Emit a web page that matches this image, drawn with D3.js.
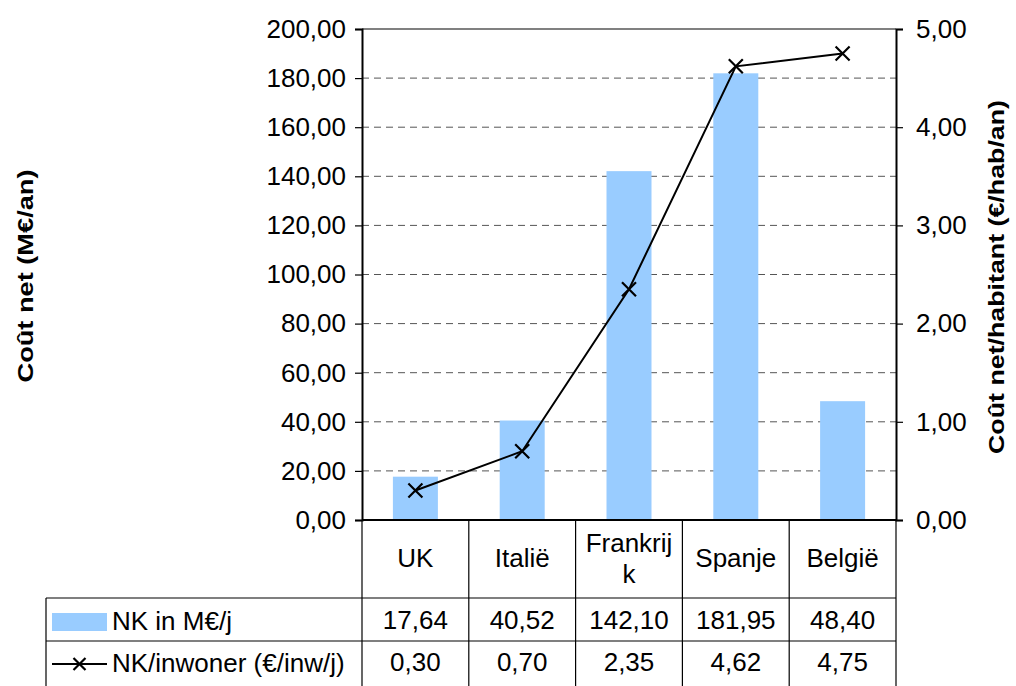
<!DOCTYPE html>
<html>
<head>
<meta charset="utf-8">
<script src="https://cdn.jsdelivr.net/npm/d3@7"></script>
<style>
  html, body { margin: 0; padding: 0; background: #fff; }
  svg { display: block; font-family: "Liberation Sans", Arial, sans-serif; }
</style>
</head>
<body>
<svg id="chart" width="1016" height="686"></svg>
<script>
// Net cost per country: total (M€/year) and per inhabitant (€/inh/year)
const countries = ["UK", "Italië", "Frankrijk", "Spanje", "België"];
const countryLines = [["UK"], ["Italië"], ["Frankrij", "k"], ["Spanje"], ["België"]];
const netCost = [17.64, 40.52, 142.10, 181.95, 48.40];
const netCostPerInhabitant = [0.30, 0.70, 2.35, 4.62, 4.75];
const leftTicks = [0, 20, 40, 60, 80, 100, 120, 140, 160, 180, 200];
const rightTicks = [0, 1, 2, 3, 4, 5];
const seriesNames = ["NK in M€/j", "NK/inwoner (€/inw/j)"];

const svg = d3.select("#chart");
const plot = { left: 362, right: 896, top: 29, bottom: 520 };
const tableLeft = 46;
const rowTops = [520, 598, 641, 700];
const fmt = v => d3.format(".2f")(v).replace(".", ",");
const fontSize = 26;

const x = d3.scaleBand().domain(countries).range([plot.left, plot.right]).paddingInner(0).paddingOuter(0);
const yL = d3.scaleLinear().domain([0, 200]).range([plot.bottom, plot.top]);
const yR = d3.scaleLinear().domain([0, 5]).range([plot.bottom, plot.top]);

// horizontal gridlines (dashed), top border solid
svg.append("g").selectAll("line").data(leftTicks.slice(1, -1)).join("line")
  .attr("x1", plot.left).attr("x2", plot.right)
  .attr("y1", d => yL(d)).attr("y2", d => yL(d))
  .attr("stroke", "#555").attr("stroke-width", 1).attr("stroke-dasharray", "7,5");
svg.append("line").attr("x1", plot.left).attr("x2", plot.right)
  .attr("y1", plot.top).attr("y2", plot.top).attr("stroke", "#808080").attr("stroke-width", 2);

// bars
const barW = 45;
svg.append("g").selectAll("rect").data(netCost).join("rect")
  .attr("x", (d, i) => x(countries[i]) + x.bandwidth() / 2 - barW / 2)
  .attr("width", barW)
  .attr("y", d => yL(d))
  .attr("height", d => yL(0) - yL(d))
  .attr("fill", "#99ccff");

// line series
const cx = i => x(countries[i]) + x.bandwidth() / 2;
svg.append("path")
  .datum(netCostPerInhabitant)
  .attr("d", d3.line().x((d, i) => cx(i)).y(d => yR(d)))
  .attr("fill", "none").attr("stroke", "#000").attr("stroke-width", 2);
const m = 7;
svg.append("g").selectAll("path").data(netCostPerInhabitant).join("path")
  .attr("transform", (d, i) => `translate(${cx(i)},${yR(d)})`)
  .attr("d", `M${-m},${-m}L${m},${m}M${-m},${m}L${m},${-m}`)
  .attr("stroke", "#000").attr("stroke-width", 2.2);

// axes
const axL = svg.append("g").attr("transform", `translate(${plot.left},0)`)
  .call(d3.axisLeft(yL).tickValues(leftTicks).tickFormat(fmt).tickSize(7).tickPadding(9));
const axR = svg.append("g").attr("transform", `translate(${plot.right},0)`)
  .call(d3.axisRight(yR).tickValues(rightTicks).tickFormat(fmt).tickSize(7).tickPadding(13));
[axL, axR].forEach(a => {
  a.select(".domain").attr("stroke", "#000").attr("stroke-width", 2);
  a.selectAll(".tick line").attr("stroke", "#000").attr("stroke-width", 1.2);
  a.selectAll("text").attr("font-size", fontSize).attr("font-family", "Liberation Sans, Arial, sans-serif").attr("fill", "#000");
});
svg.append("line").attr("x1", plot.left).attr("x2", plot.right)
  .attr("y1", plot.bottom).attr("y2", plot.bottom).attr("stroke", "#000").attr("stroke-width", 2);

// axis titles
svg.append("text").attr("transform", `translate(33,276) rotate(-90)`)
  .attr("text-anchor", "middle").attr("font-weight", "bold").attr("font-size", 22)
  .attr("textLength", 213).attr("lengthAdjust", "spacingAndGlyphs")
  .text("Coût net (M€/an)");
svg.append("text").attr("transform", `translate(1004,277) rotate(-90)`)
  .attr("text-anchor", "middle").attr("font-weight", "bold").attr("font-size", 22)
  .attr("textLength", 354).attr("lengthAdjust", "spacingAndGlyphs")
  .text("Coût net/habitant (€/hab/an)");

// data table
const tbl = svg.append("g").attr("stroke", "#000").attr("stroke-width", 1.2);
const bounds = countries.map(c => x(c)).concat([plot.right]);
bounds.forEach(bx => tbl.append("line").attr("x1", bx).attr("x2", bx).attr("y1", rowTops[0]).attr("y2", rowTops[3]));
tbl.append("line").attr("x1", tableLeft).attr("x2", tableLeft).attr("y1", rowTops[1]).attr("y2", rowTops[3]);
[rowTops[1], rowTops[2]].forEach(ry => tbl.append("line").attr("x1", tableLeft).attr("x2", plot.right).attr("y1", ry).attr("y2", ry));

// category labels
const cat = svg.append("g").attr("font-size", fontSize).attr("text-anchor", "middle");
countryLines.forEach((lines, i) => {
  const t = cat.append("text").attr("x", cx(i));
  const lh = 31;
  const y0 = 567 - (lines.length - 1) * lh / 2;
  lines.forEach((s, k) => t.append("tspan").attr("x", cx(i)).attr("y", y0 + k * lh).text(s));
});

// value rows
const rows = [netCost, netCostPerInhabitant];
const rowBaselines = [629, 671];
rows.forEach((vals, r) => {
  svg.append("g").attr("font-size", fontSize).attr("text-anchor", "middle")
    .selectAll("text").data(vals).join("text")
    .attr("x", (d, i) => cx(i)).attr("y", rowBaselines[r]).text(d => fmt(d));
});

// legend keys inside the table
svg.append("rect").attr("x", 52).attr("y", 613).attr("width", 55).attr("height", 18).attr("fill", "#99ccff");
svg.append("text").attr("x", 112).attr("y", 630).attr("font-size", fontSize).text(seriesNames[0]);
svg.append("line").attr("x1", 52).attr("x2", 107).attr("y1", 664).attr("y2", 664).attr("stroke", "#000").attr("stroke-width", 2);
svg.append("path").attr("d", `M${79.5 - 6},${664 - 6}L${79.5 + 6},${664 + 6}M${79.5 - 6},${664 + 6}L${79.5 + 6},${664 - 6}`)
  .attr("stroke", "#000").attr("stroke-width", 2.2);
svg.append("text").attr("x", 112).attr("y", 672).attr("font-size", fontSize).text(seriesNames[1]);
</script>
</body>
</html>
